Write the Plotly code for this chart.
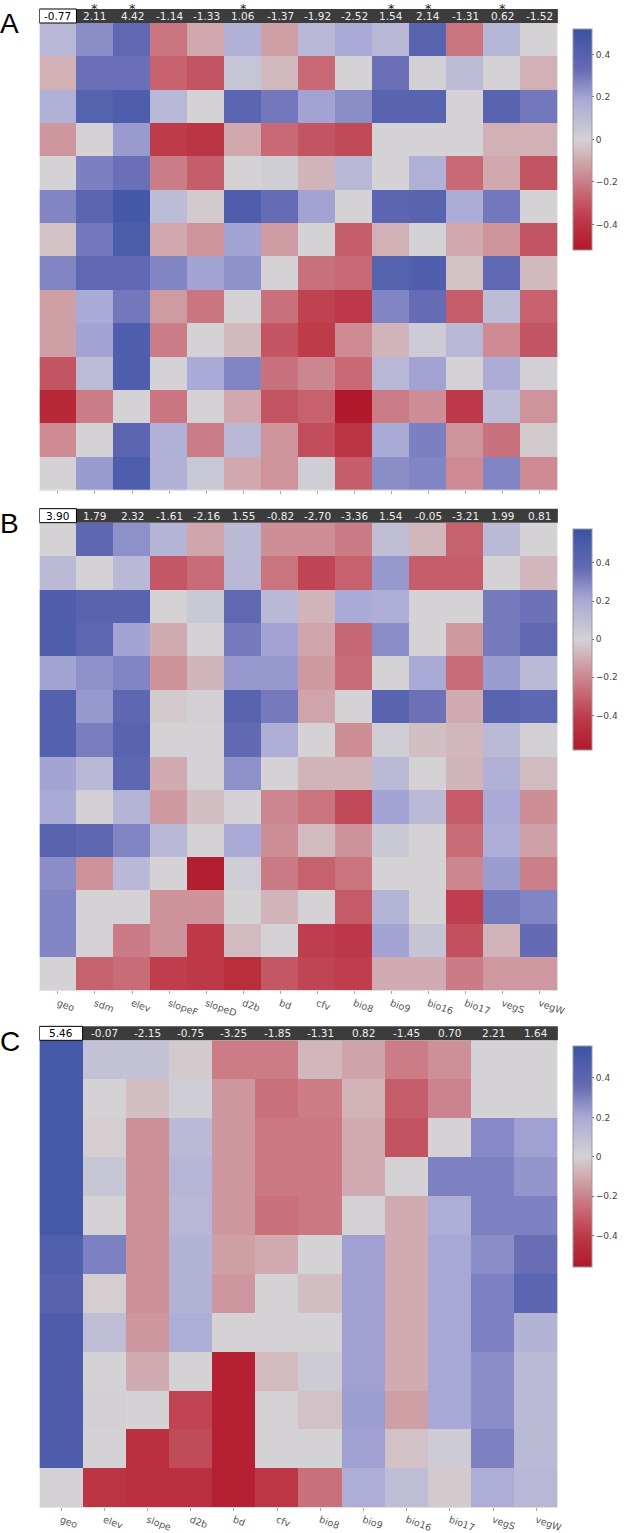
import plotly.graph_objects as go

# ---------------- data ----------------
labels_ab = ["geo", "sdm", "elev", "slopeF", "slopeD", "d2b", "bd", "cfv",
             "bio8", "bio9", "bio16", "bio17", "vegS", "vegW"]
labels_c = ["geo", "elev", "slope", "d2b", "bd", "cfv", "bio8", "bio9",
            "bio16", "bio17", "vegS", "vegW"]

header_a = [-0.77, 2.11, 4.42, -1.14, -1.33, 1.06, -1.37, -1.92, -2.52, 1.54, 2.14, -1.31, 0.62, -1.52]
signif_a = [False, True, True, False, False, True, False, False, False, True, True, False, True, False]
header_b = [3.90, 1.79, 2.32, -1.61, -2.16, 1.55, -0.82, -2.70, -3.36, 1.54, -0.05, -3.21, 1.99, 0.81]
header_c = [5.46, -0.07, -2.15, -0.75, -3.25, -1.85, -1.31, 0.82, -1.45, 0.70, 2.21, 1.64]

z_a = [
    [0.12, 0.25, 0.35, -0.22, -0.10, 0.15, -0.12, 0.12, 0.18, 0.12, 0.38, -0.22, 0.13, 0.00],
    [-0.08, 0.32, 0.32, -0.27, -0.30, 0.06, -0.06, -0.25, 0.00, 0.32, 0.01, 0.10, 0.00, -0.08],
    [0.15, 0.40, 0.43, 0.12, 0.00, 0.37, 0.30, 0.20, 0.25, 0.38, 0.38, 0.00, 0.38, 0.30],
    [-0.14, 0.00, 0.22, -0.37, -0.40, -0.10, -0.25, -0.30, -0.33, 0.00, 0.00, 0.00, -0.08, -0.08],
    [0.00, 0.28, 0.32, -0.20, -0.28, 0.00, 0.02, -0.07, 0.12, 0.00, 0.15, -0.25, -0.10, -0.30],
    [0.27, 0.37, 0.47, 0.10, -0.02, 0.43, 0.33, 0.20, 0.00, 0.37, 0.38, 0.17, 0.30, 0.00],
    [-0.04, 0.30, 0.45, -0.10, -0.15, 0.20, -0.13, 0.00, -0.28, -0.08, 0.00, -0.10, -0.15, -0.30],
    [0.27, 0.35, 0.35, 0.27, 0.20, 0.24, 0.00, -0.23, -0.25, 0.40, 0.42, -0.04, 0.35, -0.06],
    [-0.12, 0.18, 0.30, -0.13, -0.22, 0.00, -0.23, -0.35, -0.38, 0.27, 0.33, -0.28, 0.10, -0.27],
    [-0.12, 0.20, 0.42, -0.20, 0.00, -0.06, -0.30, -0.37, -0.17, -0.07, 0.03, 0.12, -0.17, -0.30],
    [-0.30, 0.10, 0.42, 0.00, 0.18, 0.27, -0.23, -0.18, -0.25, 0.12, 0.20, 0.00, 0.17, 0.01],
    [-0.45, -0.20, 0.00, -0.22, 0.00, -0.10, -0.30, -0.27, -0.52, -0.20, -0.16, -0.38, 0.10, -0.15],
    [-0.17, 0.00, 0.37, 0.15, -0.20, 0.12, -0.15, -0.32, -0.40, 0.18, 0.28, -0.15, -0.23, -0.02],
    [0.00, 0.22, 0.43, 0.15, 0.05, -0.10, -0.15, 0.02, -0.28, 0.25, 0.27, -0.17, 0.27, -0.17],
]

z_b = [
    [0.00, 0.40, 0.27, 0.15, -0.12, 0.12, -0.18, -0.18, -0.23, 0.10, -0.07, -0.30, 0.12, 0.00],
    [0.12, 0.00, 0.13, -0.33, -0.27, 0.13, -0.25, -0.38, -0.30, 0.25, -0.31, -0.31, 0.00, -0.07],
    [0.47, 0.43, 0.42, 0.00, 0.05, 0.38, 0.13, -0.08, 0.20, 0.18, 0.00, 0.00, 0.33, 0.35],
    [0.47, 0.40, 0.22, -0.10, 0.00, 0.33, 0.22, -0.12, -0.28, 0.28, 0.00, -0.15, 0.33, 0.38],
    [0.22, 0.27, 0.30, -0.17, -0.08, 0.25, 0.25, -0.15, -0.27, 0.00, 0.20, -0.27, 0.24, 0.12],
    [0.45, 0.25, 0.40, -0.02, 0.01, 0.43, 0.33, -0.12, 0.00, 0.43, 0.35, -0.10, 0.43, 0.40],
    [0.45, 0.32, 0.43, 0.00, 0.00, 0.38, 0.18, 0.00, -0.18, 0.02, -0.05, -0.07, 0.12, 0.01],
    [0.22, 0.13, 0.40, -0.10, 0.00, 0.27, 0.00, -0.08, -0.08, 0.12, 0.00, -0.08, 0.17, -0.06],
    [0.20, 0.01, 0.15, -0.15, -0.05, 0.00, -0.20, -0.25, -0.37, 0.22, 0.12, -0.32, 0.20, -0.18],
    [0.43, 0.40, 0.30, 0.13, 0.00, 0.20, -0.18, -0.06, -0.17, 0.05, 0.00, -0.27, 0.18, -0.13],
    [0.28, -0.17, 0.13, 0.00, -0.55, 0.03, -0.23, -0.30, -0.25, 0.00, 0.00, -0.20, 0.24, -0.22],
    [0.30, 0.00, 0.00, -0.17, -0.17, 0.00, -0.08, 0.00, -0.32, 0.15, 0.00, -0.40, 0.33, 0.30],
    [0.30, 0.00, -0.23, -0.17, -0.42, -0.06, 0.00, -0.40, -0.43, 0.22, 0.07, -0.35, -0.08, 0.37],
    [0.00, -0.30, -0.27, -0.40, -0.42, -0.48, -0.33, -0.38, -0.40, -0.10, -0.10, -0.23, -0.15, -0.15],
]

z_c = [
    [0.50, 0.08, 0.08, -0.02, -0.22, -0.22, -0.07, -0.12, -0.22, -0.17, 0.00, 0.00],
    [0.50, 0.00, -0.05, 0.02, -0.15, -0.25, -0.22, -0.08, -0.30, -0.20, 0.00, 0.00],
    [0.50, -0.01, -0.17, 0.12, -0.15, -0.23, -0.23, -0.10, -0.33, 0.00, 0.28, 0.22],
    [0.50, 0.06, -0.17, 0.14, -0.15, -0.23, -0.23, -0.10, 0.00, 0.30, 0.30, 0.25],
    [0.50, 0.00, -0.17, 0.13, -0.15, -0.25, -0.23, 0.00, -0.10, 0.18, 0.30, 0.30],
    [0.45, 0.30, -0.17, 0.15, -0.13, -0.10, 0.00, 0.22, -0.10, 0.20, 0.27, 0.35],
    [0.42, -0.01, -0.17, 0.15, -0.15, 0.00, -0.05, 0.22, -0.10, 0.20, 0.30, 0.40],
    [0.47, 0.10, -0.15, 0.18, 0.00, 0.00, 0.00, 0.22, -0.10, 0.20, 0.30, 0.15],
    [0.47, 0.00, -0.10, 0.00, -0.52, -0.06, 0.03, 0.22, -0.10, 0.20, 0.27, 0.12],
    [0.47, 0.01, 0.00, -0.37, -0.52, 0.00, -0.04, 0.23, -0.13, 0.20, 0.27, 0.12],
    [0.47, 0.00, -0.45, -0.35, -0.52, 0.00, 0.00, 0.22, -0.04, 0.03, 0.30, 0.12],
    [0.00, -0.43, -0.45, -0.45, -0.52, -0.42, -0.25, 0.18, 0.10, -0.02, 0.18, 0.13],
]

color_limits = [0.52, 0.58, 0.56]
cbar_ticks = [-0.4, -0.2, 0, 0.2, 0.4]

# ---------------- styling ----------------
W, H = 626, 1533
X0, X1 = 40, 566
HEAD_H = 14
colorscale = [
    [0.0, "rgb(178,24,43)"],
    [0.15, "rgb(190,60,75)"],
    [0.3, "rgb(203,122,132)"],
    [0.5, "rgb(212,210,213)"],
    [0.68, "rgb(168,168,214)"],
    [0.82, "rgb(100,106,180)"],
    [1.0, "rgb(58,83,164)"],
]

panels = [
    dict(letter="A", top=23, bottom=490, labels=labels_ab, z=z_a, head=header_a,
         stars=signif_a, show_labels=False),
    dict(letter="B", top=523, bottom=991, labels=labels_ab, z=z_b, head=header_b,
         stars=None, show_labels=True),
    dict(letter="C", top=1041, bottom=1508, labels=labels_c, z=z_c, head=header_c,
         stars=None, show_labels=True),
]


def py(px):
    return 1 - px / H


fig = go.Figure()
shapes, annotations = [], []
layout = dict(width=W, height=H, margin=dict(l=0, r=0, t=0, b=0),
              paper_bgcolor="white", plot_bgcolor="white",
              font=dict(family="DejaVu Sans", size=11, color="#444"))

for i, p in enumerate(panels):
    k = "" if i == 0 else str(i + 1)
    xa, ya, ca = "x" + k, "y" + k, "coloraxis" + k
    n_rows = len(p["z"])
    n_cols = len(p["labels"])
    fig.add_trace(go.Heatmap(
        z=p["z"], x=p["labels"], y=list(range(n_rows)),
        xaxis=xa, yaxis=ya, coloraxis=ca, xgap=0, ygap=0,
        hoverongaps=False))
    lim = color_limits[i]
    layout["xaxis" + k] = dict(
        domain=[X0 / W, X1 / W], anchor=ya, type="category",
        range=[-0.5, n_cols - 0.5], showgrid=False, zeroline=False,
        showline=True, linecolor="#e2e2e2", linewidth=1,
        ticks="outside", ticklen=3, tickcolor="#aaa", tickwidth=1,
        showticklabels=p["show_labels"], tickangle=20,
        tickfont=dict(family="DejaVu Sans", size=9.5, color="#555"))
    layout["yaxis" + k] = dict(
        domain=[py(p["bottom"]), py(p["top"])], anchor=xa,
        range=[n_rows - 0.5, -0.5], showgrid=False, zeroline=False,
        showticklabels=False, ticks="")
    layout[ca] = dict(
        cmin=-lim, cmax=lim, colorscale=colorscale,
        colorbar=dict(
            x=581 / W, xanchor="left", thickness=19,
            y=py(p["top"] + 6), yanchor="top", len=221, lenmode="pixels",
            outlinewidth=1, outlinecolor="#999",
            tickvals=cbar_ticks, ticks="outside", ticklen=2,
            tickcolor="#666",
            tickfont=dict(family="DejaVu Sans", size=9, color="#444"),
            xpad=0, ypad=0))

    # header bar
    hy0, hy1 = py(p["top"]), py(p["top"] - HEAD_H)
    shapes.append(dict(type="rect", xref="paper", yref="paper",
                       x0=X0 / W, x1=X1 / W, y0=hy0, y1=hy1,
                       fillcolor="#3c3c3c", line=dict(width=0), layer="above"))
    shapes.append(dict(type="rect", xref=xa, yref="paper",
                       x0=-0.5, x1=0.5, y0=hy0, y1=hy1,
                       fillcolor="white", line=dict(color="black", width=1), layer="above"))
    for j, (lab, v) in enumerate(zip(p["labels"], p["head"])):
        annotations.append(dict(
            x=lab, xref=xa, y=py(p["top"] - HEAD_H / 2), yref="paper",
            text=f"{v:.2f}", showarrow=False, xanchor="center", yanchor="middle",
            font=dict(family="DejaVu Sans", size=10.5,
                      color="black" if j == 0 else "#eeeeee")))
        if p["stars"] is not None and p["stars"][j]:
            annotations.append(dict(
                x=lab, xref=xa, y=1, yref="paper", borderpad=0,
                height=9, valign="top",
                text="*", showarrow=False, xanchor="center", yanchor="top",
                font=dict(family="DejaVu Sans", size=13, color="#222")))
    # panel letter
    annotations.append(dict(
        x=10 / W, xref="paper", y=py(p["top"] + 1), yref="paper",
        text=p["letter"], showarrow=False, xanchor="center", yanchor="middle",
        font=dict(family="Liberation Sans", size=28, color="black")))

layout["shapes"] = shapes
layout["annotations"] = annotations
fig.update_layout(**layout)
fig.write_html(
    "out.html",
    config={"displayModeBar": False},
    post_script="document.body.style.margin='0';document.body.style.padding='0';"
                "document.body.style.overflow='hidden';")
